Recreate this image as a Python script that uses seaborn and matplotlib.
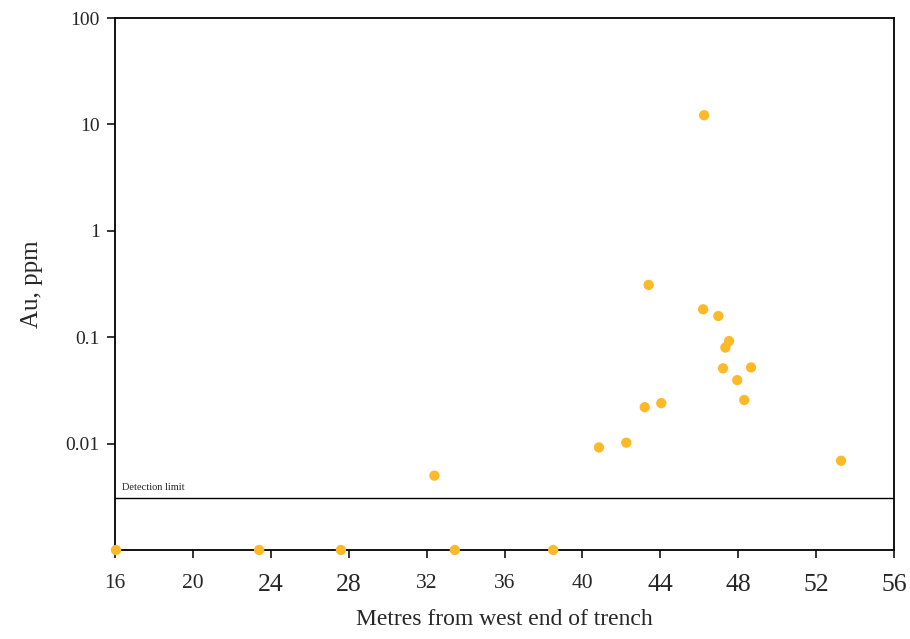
import numpy as np
import pandas as pd
import seaborn as sns
import matplotlib.pyplot as plt
from matplotlib.ticker import FixedLocator, FixedFormatter

# Sample positions along the trench (m) and gold assays (ppm)
# values below detection are plotted at the bottom of the axis (0.001)
metres = [16.05, 23.4, 27.6, 32.4, 33.45, 38.5, 40.85, 42.25, 43.2, 43.4,
          44.05, 46.25, 46.2, 46.98, 47.22, 47.34, 47.53, 47.95, 48.31, 48.66, 53.28]
au_ppm = [0.001, 0.001, 0.001, 0.005, 0.001, 0.001, 0.0092, 0.0102, 0.022, 0.31,
          0.024, 12.2, 0.183, 0.158, 0.051, 0.080, 0.092, 0.0395, 0.0257, 0.052, 0.0069]
detection_limit = 0.0031

x_ticks = [16, 20, 24, 28, 32, 36, 40, 44, 48, 52, 56]
y_ticks = [0.01, 0.1, 1, 10, 100]
y_tick_labels = ['0.01', '0.1', '1', '10', '100']

df = pd.DataFrame({'Metres': metres, 'Au': au_ppm})

sns.set_style('white')
plt.rcParams['font.family'] = ['Liberation Serif', 'DejaVu Serif']

fig = plt.figure(figsize=(9.1, 6.39), dpi=100)
ax = fig.add_axes([0.1264, 0.1393, 0.856, 0.8325])

sns.scatterplot(x='Metres', y='Au', data=df, color='#FDB927', s=55,
                edgecolor='none', clip_on=False, zorder=3, ax=ax)

ax.axhline(detection_limit, color='black', lw=1.0)
ax.text(16.35, detection_limit * 1.12, 'Detection limit', fontsize=7.5, va='bottom')

ax.set_yscale('log')
ax.set_ylim(0.001, 100)
ax.set_xlim(16, 56)
ax.yaxis.set_major_locator(FixedLocator(y_ticks))
ax.yaxis.set_major_formatter(FixedFormatter(y_tick_labels))
ax.yaxis.set_minor_locator(FixedLocator([]))
ax.set_xticks(x_ticks)
ax.set_xticklabels([str(t) for t in x_ticks])
# the original mixes two label sizes on the x axis
big = {24, 28, 44, 48, 52, 56}
for lab, t in zip(ax.get_xticklabels(), x_ticks):
    lab.set_fontsize(18.5 if t in big else 15.5)

ax.tick_params(axis='both', direction='out', length=6, width=1.1, color='black',
               bottom=True, left=True, pad=11)
ax.tick_params(axis='y', labelsize=14, pad=5)

for sp in ax.spines.values():
    sp.set_color('black')
    sp.set_linewidth(1.3)

ax.set_xlabel('Metres from west end of trench', fontsize=17, labelpad=10)
ax.set_ylabel('Au, ppm', fontsize=18, labelpad=16)

fig.savefig('out.png', dpi=100)
